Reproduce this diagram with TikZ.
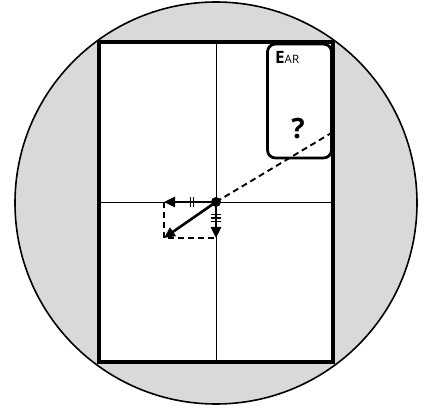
\documentclass[tikz,border=0pt]{standalone}
\usepackage{fontspec}
\newfontfamily\earfont{Open Sans}
\usetikzlibrary{arrows.meta, calc}

\begin{document}
\begin{tikzpicture}[
  x=1pt, y=-1pt,
  lens/.style={draw, line width=1.6pt, fill=black!15},
  frame/.style={draw, line width=3.8pt, fill=white},
  axis/.style={line width=0.7pt},
  earbox/.style={draw, line width=2.8pt, rounded corners=8pt, minimum width=64pt, minimum height=114pt, inner sep=0pt},
  dot/.style={circle, fill=black, minimum size=10pt, inner sep=0pt},
  vec/.style={-{Triangle[length=11pt, width=10pt]}, line width=2.6pt},
  ray/.style={dashed, dash pattern=on 6pt off 4pt, line width=1.9pt},
  tick/.style={line width=1.2pt},
]
\useasboundingbox (0,0) rectangle (424,409);

% Field of view
\path[lens] (216,203) circle[radius=201pt];
\path[frame] (99,42) rectangle (333,362);

% Cross hairs
\draw[axis] (216.5,42) -- (216.5,362);
\draw[axis] (99,202) -- (333,202);

% Ear region
\node[earbox] (ear) at (299.5,101) {};
\node[anchor=base west, inner sep=0pt] (earlbl) at (275,64) {\earfont{\fontsize{17}{17}\selectfont\bfseries E}{\fontsize{11.5}{11.5}\selectfont AR}};
\node[inner sep=0pt] (q) at (298,129) {\earfont\fontsize{28}{28}\selectfont\bfseries ?};

% Vectors
\coordinate (o) at (216,202);
\coordinate (h) at (164,202);
\coordinate (v) at (216,238);
\coordinate (r) at (164,238);
\coordinate (far) at (333,132);

\draw[ray] (o) -- (far);
\draw[ray] (h) -- (r) -- (v);
\draw[vec] (o) -- (h);
\draw[vec] (o) -- (v);
\draw[vec] (o) -- (r);
\node[dot] (pt) at (o) {};

% Tick marks
\foreach \d in {-1.8,1.8}
  \draw[tick] ($(o)+(-24+\d,-5)$) -- ($(o)+(-24+\d,5)$);
\foreach \d in {-3.6,0,3.6}
  \draw[tick] ($(o)+(-5,16+\d)$) -- ($(o)+(5,16+\d)$);

\end{tikzpicture}
\end{document}
